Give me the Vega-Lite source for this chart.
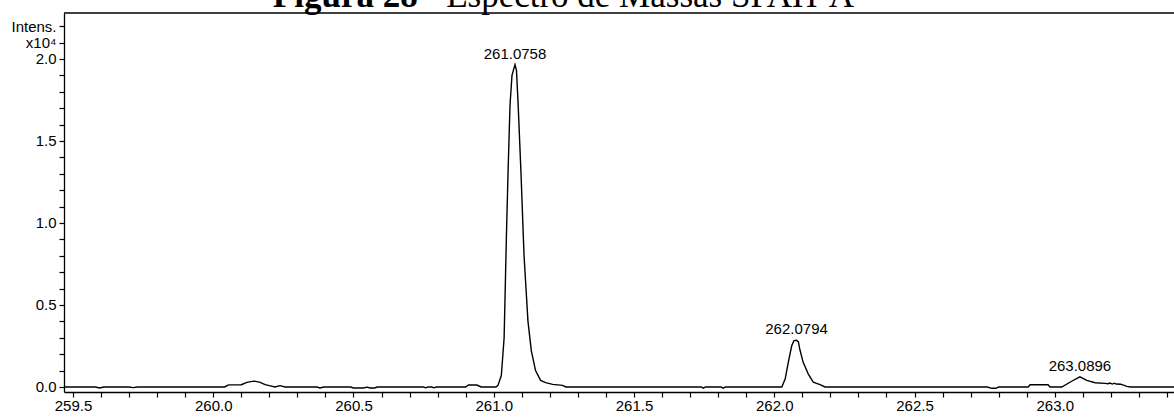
{
  "$schema": "https://vega.github.io/schema/vega-lite/v6.json",
  "width": 1110,
  "height": 379,
  "autosize": {"type": "none"},
  "padding": {"left": 64, "top": 13, "right": 0, "bottom": 26},
  "background": "white",
  "config": {
    "view": {"stroke": null},
    "font": "Liberation Sans",
    "axis": {
      "domainColor": "black",
      "domainWidth": 1.3,
      "tickColor": "black",
      "tickWidth": 1.2,
      "tickSize": 5,
      "labelColor": "black",
      "labelFont": "Liberation Sans",
      "labelFontSize": 15,
      "labelOverlap": false,
      "labelFlush": false,
      "grid": false,
      "title": null
    },
    "axisX": {
      "tickCount": 40,
      "labelExpr": "abs(datum.value * 2 - round(datum.value * 2)) < 0.001 ? format(datum.value, '.1f') : ''",
      "labelPadding": 1
    },
    "axisY": {
      "tickCount": 23,
      "labelExpr": "datum.value > 2.15 ? 'Intens.' : datum.value > 2.05 ? 'x10⁴' : (abs(datum.value * 2 - round(datum.value * 2)) < 0.001 ? format(datum.value, '.1f') : '')",
      "labelPadding": 3
    }
  },
  "datasets": {
    "spectrum": [
      {"mz": 259.468, "intensity": 0},
      {"mz": 259.58, "intensity": 0},
      {"mz": 259.595, "intensity": -0.006},
      {"mz": 259.61, "intensity": 0},
      {"mz": 259.70, "intensity": 0},
      {"mz": 259.715, "intensity": -0.004},
      {"mz": 259.73, "intensity": 0},
      {"mz": 260.04, "intensity": 0},
      {"mz": 260.055, "intensity": 0.013},
      {"mz": 260.10, "intensity": 0.014},
      {"mz": 260.12, "intensity": 0.028},
      {"mz": 260.145, "intensity": 0.036},
      {"mz": 260.165, "intensity": 0.03},
      {"mz": 260.185, "intensity": 0.014},
      {"mz": 260.20, "intensity": 0.008},
      {"mz": 260.22, "intensity": 0.0},
      {"mz": 260.238, "intensity": 0.008},
      {"mz": 260.256, "intensity": 0},
      {"mz": 260.37, "intensity": 0},
      {"mz": 260.38, "intensity": -0.006},
      {"mz": 260.395, "intensity": 0},
      {"mz": 260.49, "intensity": 0},
      {"mz": 260.50, "intensity": -0.006},
      {"mz": 260.535, "intensity": -0.006},
      {"mz": 260.548, "intensity": -0.001},
      {"mz": 260.56, "intensity": -0.006},
      {"mz": 260.575, "intensity": -0.006},
      {"mz": 260.585, "intensity": 0},
      {"mz": 260.75, "intensity": 0},
      {"mz": 260.757, "intensity": -0.005},
      {"mz": 260.765, "intensity": 0},
      {"mz": 260.78, "intensity": 0},
      {"mz": 260.787, "intensity": -0.005},
      {"mz": 260.795, "intensity": 0},
      {"mz": 260.90, "intensity": 0},
      {"mz": 260.91, "intensity": 0.012},
      {"mz": 260.94, "intensity": 0.012},
      {"mz": 260.955, "intensity": 0},
      {"mz": 261.008, "intensity": 0},
      {"mz": 261.015, "intensity": 0.01},
      {"mz": 261.027, "intensity": 0.07},
      {"mz": 261.037, "intensity": 0.30},
      {"mz": 261.045, "intensity": 0.91},
      {"mz": 261.051, "intensity": 1.31},
      {"mz": 261.058, "intensity": 1.72},
      {"mz": 261.065, "intensity": 1.90},
      {"mz": 261.0758, "intensity": 1.965},
      {"mz": 261.081, "intensity": 1.93},
      {"mz": 261.087, "intensity": 1.72},
      {"mz": 261.097, "intensity": 1.31},
      {"mz": 261.108, "intensity": 0.80},
      {"mz": 261.122, "intensity": 0.40},
      {"mz": 261.134, "intensity": 0.22},
      {"mz": 261.149, "intensity": 0.10},
      {"mz": 261.167, "intensity": 0.04},
      {"mz": 261.185, "intensity": 0.027},
      {"mz": 261.21, "intensity": 0.016},
      {"mz": 261.245, "intensity": 0.01},
      {"mz": 261.257, "intensity": 0},
      {"mz": 261.74, "intensity": 0},
      {"mz": 261.747, "intensity": -0.007},
      {"mz": 261.755, "intensity": 0},
      {"mz": 261.81, "intensity": 0},
      {"mz": 261.818, "intensity": -0.007},
      {"mz": 261.826, "intensity": 0},
      {"mz": 262.027, "intensity": 0},
      {"mz": 262.039, "intensity": 0.05},
      {"mz": 262.05, "intensity": 0.15},
      {"mz": 262.062, "intensity": 0.25},
      {"mz": 262.07, "intensity": 0.283},
      {"mz": 262.0794, "intensity": 0.285},
      {"mz": 262.086, "intensity": 0.275},
      {"mz": 262.091, "intensity": 0.23},
      {"mz": 262.103, "intensity": 0.15},
      {"mz": 262.121, "intensity": 0.08},
      {"mz": 262.139, "intensity": 0.03},
      {"mz": 262.163, "intensity": 0.014},
      {"mz": 262.181, "intensity": 0},
      {"mz": 262.76, "intensity": 0},
      {"mz": 262.775, "intensity": -0.008},
      {"mz": 262.79, "intensity": -0.008},
      {"mz": 262.80, "intensity": 0},
      {"mz": 262.905, "intensity": 0},
      {"mz": 262.912, "intensity": 0.014},
      {"mz": 262.976, "intensity": 0.014},
      {"mz": 262.983, "intensity": 0},
      {"mz": 263.025, "intensity": 0},
      {"mz": 263.06, "intensity": 0.035},
      {"mz": 263.0896, "intensity": 0.062},
      {"mz": 263.114, "intensity": 0.04},
      {"mz": 263.144, "intensity": 0.026},
      {"mz": 263.179, "intensity": 0.022},
      {"mz": 263.19, "intensity": 0.02},
      {"mz": 263.197, "intensity": 0.024},
      {"mz": 263.205, "intensity": 0.018},
      {"mz": 263.212, "intensity": 0.023},
      {"mz": 263.22, "intensity": 0.018},
      {"mz": 263.235, "intensity": 0.017},
      {"mz": 263.257, "intensity": 0.004},
      {"mz": 263.27, "intensity": 0},
      {"mz": 263.425, "intensity": 0}
    ],
    "peaks": [
      {"mz": 261.0758, "intensity": 1.965},
      {"mz": 262.0794, "intensity": 0.285},
      {"mz": 263.0896, "intensity": 0.062}
    ],
    "caption": [
      {"mz": 260.729, "intensity": 2.3166, "bold": "Figura 28", "rest": "- Espectro de Massas SPAH-A"}
    ]
  },
  "layer": [
    {
      "data": {"name": "spectrum"},
      "mark": {"type": "line", "color": "black", "strokeWidth": 1.4, "clip": true, "interpolate": "linear"},
      "encoding": {
        "x": {
          "field": "mz",
          "type": "quantitative",
          "scale": {"domain": [259.468, 263.425], "nice": false, "zero": false}
        },
        "y": {
          "field": "intensity",
          "type": "quantitative",
          "scale": {"domain": [-0.0305, 2.28], "nice": false, "zero": false}
        }
      }
    },
    {
      "data": {"values": [{}]},
      "mark": {"type": "rule", "color": "black", "strokeWidth": 1.3},
      "encoding": {"y": {"datum": 2.28}}
    },
    {
      "data": {"name": "peaks"},
      "mark": {"type": "text", "baseline": "bottom", "dy": -3, "fontSize": 15, "font": "Liberation Sans", "color": "black"},
      "encoding": {
        "x": {"field": "mz", "type": "quantitative"},
        "y": {"field": "intensity", "type": "quantitative"},
        "text": {"field": "mz", "type": "quantitative", "format": ".4f"}
      }
    },
    {
      "data": {"name": "caption"},
      "mark": {"type": "text", "font": "Liberation Serif", "fontSize": 35, "fontWeight": "bold", "align": "right", "baseline": "alphabetic", "color": "black"},
      "encoding": {
        "x": {"field": "mz", "type": "quantitative"},
        "y": {"field": "intensity", "type": "quantitative"},
        "text": {"field": "bold"}
      }
    },
    {
      "data": {"name": "caption"},
      "mark": {"type": "text", "font": "Liberation Serif", "fontSize": 35, "fontWeight": "normal", "align": "left", "baseline": "alphabetic", "dx": 8, "color": "black"},
      "encoding": {
        "x": {"field": "mz", "type": "quantitative"},
        "y": {"field": "intensity", "type": "quantitative"},
        "text": {"field": "rest"}
      }
    }
  ]
}
